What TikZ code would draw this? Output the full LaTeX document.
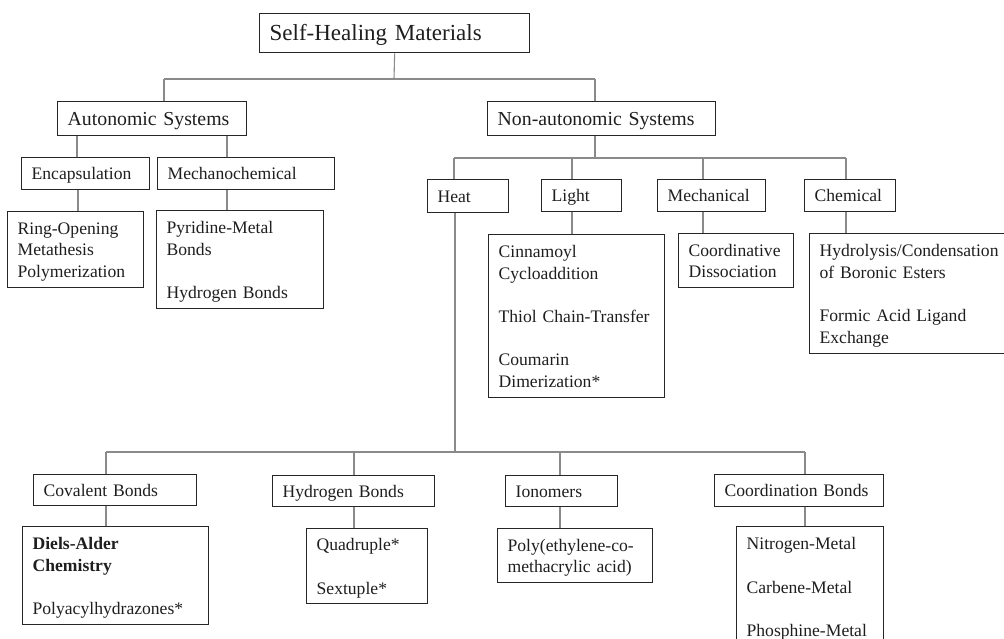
\documentclass[tikz,border=0pt]{standalone}
\usepackage{fontspec}
\setmainfont{Liberation Serif}
\newcommand{\boxtext}[1]{\raisebox{-2pt}[\height][\depth]{\begin{tabular}{@{}l@{}}#1\end{tabular}}}
\definecolor{boxc}{HTML}{262626}
\definecolor{connc}{HTML}{8A8A8A}
\definecolor{txtc}{HTML}{1E1E1E}
\tikzset{
  box/.style={draw=boxc, line width=1.3pt, rectangle, anchor=north west,
    inner xsep=10pt, inner ysep=0pt, align=left, text=txtc,
    font=\fontsize{17.6}{21.7}\selectfont},
  bx/.style n args={2}{minimum height=#2pt, text width=#1pt},
  lvlone/.style={font=\fontsize{19.8}{24}\selectfont},
  lvlroot/.style={font=\fontsize{23}{28}\selectfont},
  conn/.style={draw=connc, line width=1.1pt}
}
\begin{document}
\begin{tikzpicture}[x=1pt,y=-1pt]
\useasboundingbox (0,0) rectangle (1004,638);
\clip (0,0) rectangle (1004,638);
% level 0 and 1
\node[box,lvlroot,bx={250}{39}] (root) at (259,13) {\boxtext{Self-Healing Materials}};
\node[box,lvlone,bx={169}{34}] (auto) at (57,101) {\boxtext{Autonomic Systems}};
\node[box,lvlone,bx={208}{34}] (non) at (487,101) {\boxtext{Non-autonomic Systems}};
% autonomic branch
\node[box,bx={108}{32}] (enc) at (21,157) {\boxtext{Encapsulation}};
\node[box,bx={157}{32}] (mc) at (157,157) {\boxtext{Mechanochemical}};
\node[box,bx={116}{76}] (romp) at (7,211) {\boxtext{Ring-Opening\\Metathesis\\Polymerization}};
\node[box,bx={147}{98}] (mcdet) at (156,210) {\boxtext{Pyridine-Metal\\Bonds\\ \\Hydrogen Bonds}};
% non-autonomic branch
\node[box,bx={61}{33}] (heat) at (427,179) {\boxtext{Heat}};
\node[box,bx={60}{32}] (light) at (541,179) {\boxtext{Light}};
\node[box,bx={88}{32}] (mech) at (657,179) {\boxtext{Mechanical}};
\node[box,bx={71}{32}] (chem) at (804,179) {\boxtext{Chemical}};
\node[box,bx={156}{163}] (lightdet) at (488,234) {\boxtext{Cinnamoyl\\Cycloaddition\\ \\Thiol Chain-Transfer\\ \\Coumarin\\Dimerization*}};
\node[box,bx={95}{54}] (mechdet) at (678,233) {\boxtext{Coordinative\\Dissociation}};
\node[box,bx={220}{120}] (chemdet) at (809,233) {\boxtext{Hydrolysis/Condensation\\of Boronic Esters\\ \\Formic Acid Ligand\\Exchange}};
% heat branch
\node[box,bx={143}{31}] (cov) at (33,474) {\boxtext{Covalent Bonds}};
\node[box,bx={142}{31}] (hyd) at (272,475) {\boxtext{Hydrogen Bonds}};
\node[box,bx={92}{31}] (ion) at (505,475) {\boxtext{Ionomers}};
\node[box,bx={149}{32}] (coord) at (714,474) {\boxtext{Coordination Bonds}};
\node[box,bx={166}{98}] (covdet) at (22,526) {\boxtext{\textbf{Diels-Alder}\\\textbf{Chemistry}\\ \\Polyacylhydrazones*}};
\node[box,bx={101}{75}] (hyddet) at (306,528) {\boxtext{Quadruple*\\ \\Sextuple*}};
\node[box,bx={135}{54}] (iondet) at (497,528) {\boxtext{Poly(ethylene-co-\\methacrylic acid)}};
\node[box,bx={127}{120}] (coorddet) at (736,526) {\boxtext{Nitrogen-Metal\\ \\Carbene-Metal\\ \\Phosphine-Metal}};
% junction coordinates
\coordinate (j0) at (394,79);
\coordinate (jA) at (164,79);
\coordinate (jN) at (595,79);
\coordinate (jN2) at (595,158);
\coordinate (jH) at (454,158);
\coordinate (jL) at (572,158);
\coordinate (jM) at (703,158);
\coordinate (jC) at (846,158);
\coordinate (xE) at (77,0);
\coordinate (xR) at (78,0);
\coordinate (xM) at (227,0);
\coordinate (jB) at (455,452);
\coordinate (b1) at (106,452);
\coordinate (b2) at (354,452);
\coordinate (b3) at (560,452);
\coordinate (b4) at (805,452);
% connectors
\draw[conn] (root.south) -- (j0);
\draw[conn] (jA) -- (jN);
\draw[conn] (jA) -- (jA |- auto.north);
\draw[conn] (jN) -- (jN |- non.north);
\draw[conn] (xE |- auto.south) -- (xE |- enc.north);
\draw[conn] (xR |- enc.south) -- (xR |- romp.north);
\draw[conn] (xM |- auto.south) -- (xM |- mc.north);
\draw[conn] (xM |- mc.south) -- (xM |- mcdet.north);
\draw[conn] (jN2 |- non.south) -- (jN2);
\draw[conn] (jH) -- (jC);
\draw[conn] (jH) -- (jH |- heat.north);
\draw[conn] (jL) -- (jL |- light.north);
\draw[conn] (jM) -- (jM |- mech.north);
\draw[conn] (jC) -- (jC |- chem.north);
\draw[conn] (jL |- light.south) -- (jL |- lightdet.north);
\draw[conn] (jM |- mech.south) -- (jM |- mechdet.north);
\draw[conn] (jC |- chem.south) -- (jC |- chemdet.north);
\draw[conn] (jB |- heat.south) -- (jB);
\draw[conn] (b1) -- (b4);
\draw[conn] (b1) -- (b1 |- cov.north);
\draw[conn] (b2) -- (b2 |- hyd.north);
\draw[conn] (b3) -- (b3 |- ion.north);
\draw[conn] (b4) -- (b4 |- coord.north);
\draw[conn] (b1 |- cov.south) -- (b1 |- covdet.north);
\draw[conn] (b2 |- hyd.south) -- (b2 |- hyddet.north);
\draw[conn] (b3 |- ion.south) -- (b3 |- iondet.north);
\draw[conn] (b4 |- coord.south) -- (b4 |- coorddet.north);
\end{tikzpicture}
\end{document}
